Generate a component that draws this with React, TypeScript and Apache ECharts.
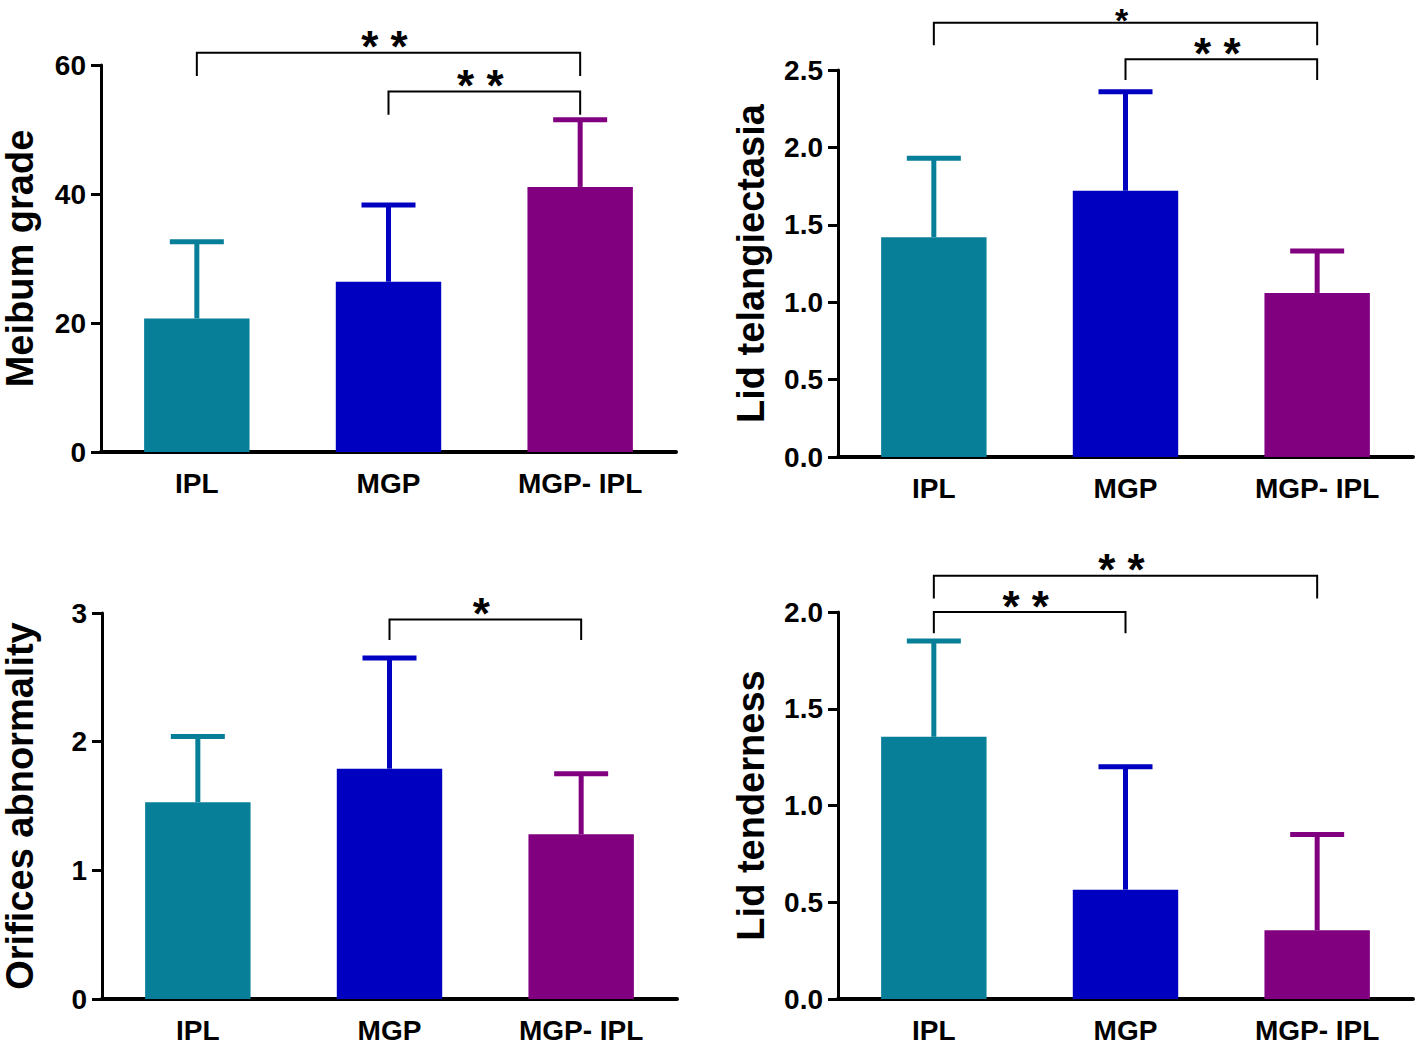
import React, { useEffect, useRef } from "react";
import * as echarts from "echarts";

const categories = ["IPL", "MGP", "MGP- IPL"];
const barColors = ["#087F98", "#0000C0", "#800080"];

// Meibum grade
const meibumMean = [20.7, 26.4, 41.1];
const meibumUpper = [32.6, 38.3, 51.5];
const meibumTicks = { min: 0, max: 60, interval: 20 };
// brackets: [fromCategory, toCategory, topValue, bottomValue]
const meibumBrackets = [
  [0, 2, 61.9, 58.3],
  [1, 2, 55.9, 52.3],
];
const meibumStars = ["* *", "* *"];

// Lid telangiectasia
const telangMean = [1.42, 1.72, 1.06];
const telangUpper = [1.93, 2.36, 1.33];
const telangTicks = { min: 0, max: 2.5, interval: 0.5 };
const telangBrackets = [
  [0, 2, 2.805, 2.66],
  [1, 2, 2.57, 2.435],
];
const telangStars = ["*", "* *"];

// Orifices abnormality
const orificeMean = [1.53, 1.79, 1.28];
const orificeUpper = [2.04, 2.65, 1.75];
const orificeTicks = { min: 0, max: 3, interval: 1 };
const orificeBrackets = [[1, 2, 2.95, 2.79]];
const orificeStars = ["*"];

// Lid tenderness
const tenderMean = [1.355, 0.565, 0.355];
const tenderUpper = [1.85, 1.2, 0.85];
const tenderTicks = { min: 0, max: 2, interval: 0.5 };
const tenderBrackets = [
  [0, 2, 2.187, 2.07],
  [0, 1, 2.0, 1.89],
];
const tenderStars = ["* *", "* *"];

const FONT = "'Liberation Sans', Arial, sans-serif";

const panels = [
  { title: "Meibum grade", mean: meibumMean, upper: meibumUpper, ticks: meibumTicks, brackets: meibumBrackets, stars: meibumStars, decimals: 0, grid: { left: 98, top: 65, width: 578, height: 387 }, nameGap: 62 },
  { title: "Lid telangiectasia", mean: telangMean, upper: telangUpper, ticks: telangTicks, brackets: telangBrackets, stars: telangStars, decimals: 1, grid: { left: 838, top: 70, width: 575, height: 387 }, nameGap: 68 },
  { title: "Orifices abnormality", mean: orificeMean, upper: orificeUpper, ticks: orificeTicks, brackets: orificeBrackets, stars: orificeStars, decimals: 0, grid: { left: 99, top: 613, width: 578, height: 386 }, nameGap: 63 },
  { title: "Lid tenderness", mean: tenderMean, upper: tenderUpper, ticks: tenderTicks, brackets: tenderBrackets, stars: tenderStars, decimals: 1, grid: { left: 838, top: 612, width: 575, height: 387 }, nameGap: 68 },
];

function buildOption() {
  const grid: any[] = [];
  const xAxis: any[] = [];
  const yAxis: any[] = [];
  const series: any[] = [];
  panels.forEach((p, i) => {
    grid.push({ ...p.grid, containLabel: false });
    xAxis.push({
      type: "category",
      gridIndex: i,
      data: categories,
      axisLine: { show: true, lineStyle: { color: "#000", width: 4 } },
      axisTick: { show: false },
      axisLabel: { color: "#000", fontFamily: FONT, fontWeight: "bold", fontSize: 28, margin: 17 },
    });
    yAxis.push({
      type: "value",
      gridIndex: i,
      min: p.ticks.min,
      max: p.ticks.max,
      interval: p.ticks.interval,
      name: p.title,
      nameLocation: "middle",
      nameRotate: 90,
      nameGap: p.nameGap,
      nameTextStyle: { color: "#000", fontFamily: FONT, fontWeight: "bold", fontSize: 38 },
      axisLine: { show: true, lineStyle: { color: "#000", width: 3 } },
      axisTick: { show: true, length: 10, lineStyle: { color: "#000", width: 3 } },
      splitLine: { show: false },
      axisLabel: {
        color: "#000",
        fontFamily: FONT,
        fontWeight: "bold",
        fontSize: 28,
        margin: 15,
        formatter: (v: number) => v.toFixed(p.decimals),
      },
    });
    series.push({
      type: "bar",
      xAxisIndex: i,
      yAxisIndex: i,
      barWidth: "55%",
      data: p.mean.map((v, k) => ({ value: v, itemStyle: { color: barColors[k] } })),
    });
    series.push({
      type: "custom",
      xAxisIndex: i,
      yAxisIndex: i,
      z: 3,
      data: p.mean.map((v, k) => [k, v, p.upper[k]]),
      renderItem: (params: any, api: any) => {
        const k = api.value(0);
        const base = api.coord([k, api.value(1)]);
        const top = api.coord([k, api.value(2)]);
        const color = barColors[k];
        return {
          type: "group",
          children: [
            { type: "rect", shape: { x: base[0] - 2.5, y: top[1], width: 5, height: base[1] - top[1] }, style: { fill: color } },
            { type: "rect", shape: { x: base[0] - 27, y: top[1] - 2.5, width: 54, height: 5 }, style: { fill: color } },
          ],
        };
      },
    });
    series.push({
      type: "custom",
      xAxisIndex: i,
      yAxisIndex: i,
      z: 4,
      clip: false,
      data: p.brackets,
      renderItem: (params: any, api: any) => {
        const x1 = api.value(0);
        const x2 = api.value(1);
        const yt = api.value(2);
        const yb = api.value(3);
        const a = api.coord([x1, yb]);
        const b = api.coord([x1, yt]);
        const c = api.coord([x2, yt]);
        const d = api.coord([x2, yb]);
        let fs = 44;
        let ty = b[1] - 6;
        if (ty - fs * 0.575 < 0) {
          fs = 34;
          ty = Math.max(ty, fs * 0.575 + 0.5);
        }
        return {
          type: "group",
          children: [
            { type: "polyline", shape: { points: [a, b, c, d] }, style: { stroke: "#000", lineWidth: 2, fill: null } },
            {
              type: "text",
              x: (b[0] + c[0]) / 2 - 4,
              y: ty,
              style: { text: p.stars[params.dataIndex], fontSize: fs, fontWeight: "bold", fontFamily: FONT, fill: "#000", align: "center", verticalAlign: "middle" },
            },
          ],
        };
      },
    });
  });
  return { animation: false, backgroundColor: "#fff", grid, xAxis, yAxis, series };
}

export default function App() {
  const ref = useRef<HTMLDivElement>(null);
  useEffect(() => {
    document.body.style.margin = "0";
    const chart = echarts.init(ref.current!, undefined, { renderer: "svg" });
    chart.setOption(buildOption() as any);
    return () => chart.dispose();
  }, []);
  return <div ref={ref} style={{ width: 1418, height: 1044 }} />;
}
